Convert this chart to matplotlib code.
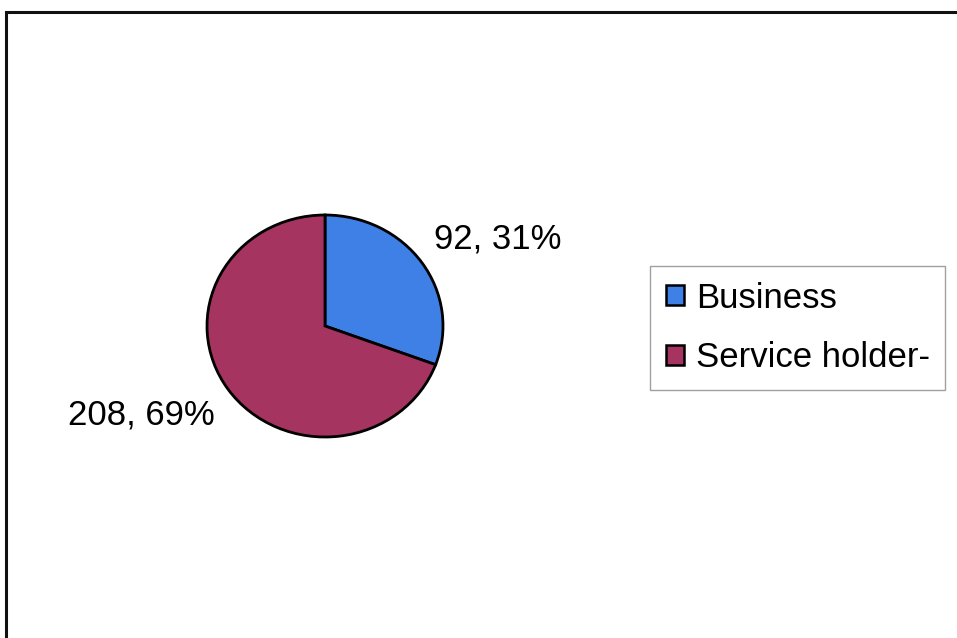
import numpy as np
import matplotlib
matplotlib.use("Agg")
import matplotlib.pyplot as plt
from matplotlib.patches import Rectangle

categories = ["Business", "Service holder-"]
counts = [92, 208]
colors = ["#3f80e6", "#a63461"]

plt.rcParams["font.family"] = ["Liberation Sans", "DejaVu Sans"]

W, H = 957, 638
fig = plt.figure(figsize=(W / 100, H / 100), dpi=100)
fig.patch.set_facecolor("white")

# chart area border, runs off the right and bottom edges
fig.add_artist(Rectangle((6 / W, -0.1), 1.2, 1 - 12 / H + 0.1,
                         transform=fig.transFigure, fill=False,
                         edgecolor="#111111", linewidth=2.2))

# pie, slightly wider than tall
cx, cy, rx, ry = 325, 326, 118, 111
ax = fig.add_axes([(cx - rx) / W, 1 - (cy + ry) / H, 2 * rx / W, 2 * ry / H])
wedges, _ = ax.pie(counts, colors=colors, startangle=90, counterclock=False,
                   wedgeprops=dict(edgecolor="black", linewidth=2))
ax.set_aspect("auto")
ax.set_xlim(-1, 1)
ax.set_ylim(-1, 1)
ax.axis("off")

total = sum(counts)
label_pos = [(1.46, 0.78), (-1.56, -0.80)]
for (x, y), n in zip(label_pos, counts):
    ax.text(x, y, f"{n}, {round(100 * n / total)}%", fontsize=25,
            ha="center", va="center", clip_on=False)

leg = fig.legend(wedges, categories, loc="upper left",
                 bbox_to_anchor=(650 / W, 1 - 266 / H), fontsize=25,
                 frameon=True, fancybox=False, handlelength=0.52, handleheight=0.52,
                 handletextpad=0.35, labelspacing=0.76, borderpad=0.45,
                 borderaxespad=0)
leg.get_frame().set_edgecolor("#888888")
leg.get_frame().set_linewidth(1.0)
for h in leg.legend_handles:
    h.set_linewidth(1.8)

fig.savefig("out.png", dpi=100)
